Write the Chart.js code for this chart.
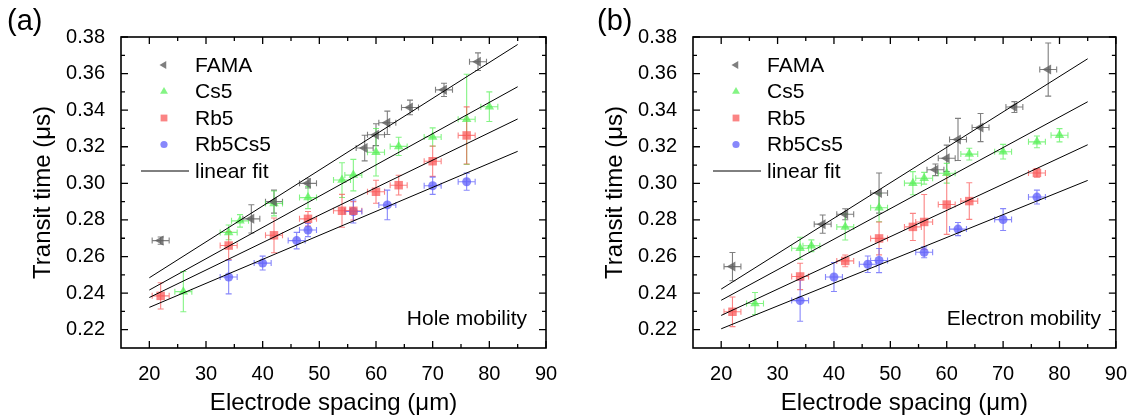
<!DOCTYPE html>
<html lang="en">
<head>
  <meta charset="UTF-8">
  <title>Transit time vs electrode spacing</title>
  <style>
    body { margin: 0; background: #fff; }
    #wrap { position: relative; width: 1133px; height: 419px; }
    .panel { position: absolute; top: 0; height: 419px; }
    #panelA { left: 0; width: 566px; }
    #panelB { left: 566px; width: 567px; }
  </style>
</head>
<body>
  <div id="wrap">
    <div class="panel" id="panelA"><canvas id="chartA"></canvas></div>
    <div class="panel" id="panelB"><canvas id="chartB"></canvas></div>
  </div>

  <script src="https://cdn.jsdelivr.net/npm/chart.js"></script>
  <script>
    // ---- data ----
    const seriesNames = ['FAMA', 'Cs5', 'Rb5', 'Rb5Cs5'];
    const xTicks = [20, 30, 40, 50, 60, 70, 80, 90];
    const yTicks = [0.22, 0.24, 0.26, 0.28, 0.30, 0.32, 0.34, 0.36, 0.38];
    const spacingErr = 1.5;   // horizontal error (µm), same for all points
    const fitX = [20, 85];

    // (a) hole mobility
    const holeFamaX = [22, 38, 42, 48, 58, 60, 62, 66, 72, 78];
    const holeFamaY = [0.2687, 0.2806, 0.2900, 0.3000, 0.3193, 0.3266, 0.3331, 0.3415, 0.3511, 0.3665];
    const holeFamaErr = [0.0020, 0.0077, 0.0063, 0.0025, 0.0070, 0.0060, 0.0064, 0.0040, 0.0036, 0.0048];

    const holeCs5X = [26, 34, 36, 42, 48, 54, 56, 60, 64, 70, 76, 80];
    const holeCs5Y = [0.2408, 0.2732, 0.2795, 0.2890, 0.2922, 0.3018, 0.3045, 0.3170, 0.3202, 0.3253, 0.3350, 0.3419];
    const holeCs5Err = [0.0110, 0.0040, 0.0034, 0.0068, 0.0060, 0.0095, 0.0086, 0.0130, 0.0050, 0.0050, 0.0246, 0.0081];

    const holeRb5X = [22, 34, 42, 48, 54, 56, 60, 64, 70, 76];
    const holeRb5Y = [0.2385, 0.2660, 0.2716, 0.2806, 0.2850, 0.2850, 0.2954, 0.2990, 0.3121, 0.3262];
    const holeRb5Err = [0.0072, 0.0077, 0.0095, 0.0040, 0.0090, 0.0050, 0.0063, 0.0054, 0.0083, 0.0156];

    const holeRbCsX = [34, 40, 46, 48, 56, 62, 70, 76];
    const holeRbCsY = [0.2488, 0.2564, 0.2687, 0.2745, 0.2846, 0.2882, 0.2987, 0.3009];
    const holeRbCsErr = [0.0092, 0.0038, 0.0045, 0.0036, 0.0063, 0.0081, 0.0047, 0.0047];

    const holeFitFama = [0.2484, 0.3759];
    const holeFitCs5 = [0.2417, 0.3528];
    const holeFitRb5 = [0.2376, 0.3352];
    const holeFitRbCs = [0.2322, 0.3175];

    // (b) electron mobility
    const elecFamaX = [22, 38, 42, 48, 58, 60, 62, 66, 72, 78];
    const elecFamaY = [0.2545, 0.2777, 0.2831, 0.2947, 0.3074, 0.3137, 0.3240, 0.3305, 0.3417, 0.3622];
    const elecFamaErr = [0.0077, 0.0050, 0.0030, 0.0110, 0.0032, 0.0072, 0.0115, 0.0077, 0.0030, 0.0145];

    const elecCs5X = [26, 34, 36, 42, 48, 54, 56, 60, 64, 70, 76, 80];
    const elecCs5Y = [0.2343, 0.2645, 0.2659, 0.2762, 0.2867, 0.3001, 0.3028, 0.3055, 0.3160, 0.3173, 0.3227, 0.3263];
    const elecCs5Err = [0.0060, 0.0060, 0.0032, 0.0072, 0.0077, 0.0063, 0.0032, 0.0054, 0.0032, 0.0040, 0.0032, 0.0036];

    const elecRb5X = [22, 34, 42, 48, 54, 56, 60, 64, 76];
    const elecRb5Y = [0.2298, 0.2491, 0.2576, 0.2699, 0.2762, 0.2789, 0.2884, 0.2903, 0.3057];
    const elecRb5Err = [0.0081, 0.0072, 0.0032, 0.0090, 0.0074, 0.0150, 0.0163, 0.0100, 0.0024];

    const elecRbCsX = [34, 40, 46, 48, 56, 62, 70, 76];
    const elecRbCsY = [0.2359, 0.2488, 0.2558, 0.2578, 0.2623, 0.2750, 0.2802, 0.2925];
    const elecRbCsErr = [0.0113, 0.0079, 0.0045, 0.0066, 0.0030, 0.0036, 0.0060, 0.0038];

    const elecFitFama = [0.2422, 0.3681];
    const elecFitCs5 = [0.2361, 0.3446];
    const elecFitRb5 = [0.2278, 0.3211];
    const elecFitRbCs = [0.2205, 0.3016];

    // ---- styles ----
    const FONT = '"Liberation Sans", Arial, sans-serif';
    const seriesColors = ['rgba(95,95,95,0.8)', 'rgba(80,240,80,0.7)', 'rgba(250,80,80,0.7)', 'rgba(95,95,250,0.75)'];
    const markerStyles = ['triangle', 'triangle', 'rect', 'circle'];
    const markerRotation = [-90, 0, 0, 0];
    const markerRadius = [5.8, 5.5, 6, 4.5];

    Chart.defaults.font.family = FONT;
    Chart.defaults.color = '#000';

    const toPoints = (xs, ys) => xs.map((x, i) => ({ x: x, y: ys[i] }));

    // small marker for the hand-drawn legend
    function drawMarker(ctx, i, x, y) {
      const r = 4.5;
      ctx.fillStyle = seriesColors[i];
      ctx.beginPath();
      if (i === 0) {
        ctx.moveTo(x - r, y); ctx.lineTo(x + r * 0.5, y - r * 0.87); ctx.lineTo(x + r * 0.5, y + r * 0.87);
      } else if (i === 1) {
        ctx.moveTo(x, y - r); ctx.lineTo(x + r * 0.87, y + r * 0.5); ctx.lineTo(x - r * 0.87, y + r * 0.5);
      } else if (i === 2) {
        ctx.rect(x - 3.4, y - 3.4, 6.8, 6.8);
      } else {
        ctx.arc(x, y, 3.6, 0, Math.PI * 2);
      }
      ctx.closePath();
      ctx.fill();
    }

    // x and y error bars, drawn under the markers
    const errorBars = {
      id: 'errorBars',
      beforeDatasetsDraw(chart) {
        const { ctx, scales: { x, y } } = chart;
        chart.data.datasets.forEach(ds => {
          if (!ds.yErr) return;
          ctx.save();
          ctx.strokeStyle = ds.borderColor;
          ctx.lineWidth = 1.1;
          ds.data.forEach((p, i) => {
            const px = x.getPixelForValue(p.x), py = y.getPixelForValue(p.y);
            const l = x.getPixelForValue(p.x - spacingErr), r = x.getPixelForValue(p.x + spacingErr);
            const t = y.getPixelForValue(p.y + ds.yErr[i]), b = y.getPixelForValue(p.y - ds.yErr[i]);
            ctx.beginPath();
            ctx.moveTo(l, py); ctx.lineTo(r, py);
            ctx.moveTo(l, py - 3); ctx.lineTo(l, py + 3);
            ctx.moveTo(r, py - 3); ctx.lineTo(r, py + 3);
            ctx.moveTo(px, t); ctx.lineTo(px, b);
            ctx.moveTo(px - 3, t); ctx.lineTo(px + 3, t);
            ctx.moveTo(px - 3, b); ctx.lineTo(px + 3, b);
            ctx.stroke();
          });
          ctx.restore();
        });
      }
    };

    // box frame with inward major/minor ticks on all four sides
    const frameTicks = {
      id: 'frameTicks',
      afterDatasetsDraw(chart) {
        const { ctx, chartArea: a, scales: { x, y } } = chart;
        ctx.save();
        ctx.strokeStyle = '#000';
        ctx.lineWidth = 1.3;
        ctx.beginPath();
        const xMinor = xTicks.slice(0, -1).map((v, i) => (v + xTicks[i + 1]) / 2);
        const yMinor = yTicks.slice(0, -1).map((v, i) => (v + yTicks[i + 1]) / 2);
        const tickX = (v, len) => {
          const p = x.getPixelForValue(v);
          ctx.moveTo(p, a.bottom); ctx.lineTo(p, a.bottom - len);
          ctx.moveTo(p, a.top); ctx.lineTo(p, a.top + len);
        };
        const tickY = (v, len) => {
          const p = y.getPixelForValue(v);
          ctx.moveTo(a.left, p); ctx.lineTo(a.left + len, p);
          ctx.moveTo(a.right, p); ctx.lineTo(a.right - len, p);
        };
        xTicks.forEach(v => tickX(v, 7));
        xMinor.forEach(v => tickX(v, 4));
        yTicks.forEach(v => tickY(v, 7));
        yMinor.forEach(v => tickY(v, 4));
        ctx.stroke();
        ctx.lineWidth = 1.6;
        ctx.strokeRect(a.left, a.top, a.right - a.left, a.bottom - a.top);
        ctx.restore();
      }
    };

    // panel tag, note, axis titles and legend
    const panelText = {
      id: 'panelText',
      afterDraw(chart, args, opts) {
        const { ctx, chartArea: a } = chart;
        ctx.save();
        ctx.fillStyle = '#000';
        ctx.textAlign = 'left';
        ctx.textBaseline = 'top';
        ctx.font = '29px ' + FONT;
        ctx.fillText(opts.tag, opts.tagX, 7);

        ctx.font = '21px ' + FONT;
        ctx.textAlign = 'right';
        ctx.textBaseline = 'middle';
        ctx.fillText(opts.note, a.right - opts.noteRight, a.bottom - 29);

        ctx.font = '24px ' + FONT;
        ctx.textAlign = 'center';
        ctx.fillText('Electrode spacing (μm)', (a.left + a.right) / 2, 403);
        ctx.save();
        ctx.translate(a.left - 78, (a.top + a.bottom) / 2);
        ctx.rotate(-Math.PI / 2);
        ctx.fillText('Transit time (μs)', 0, 0);
        ctx.restore();

        // legend
        ctx.font = '21px ' + FONT;
        ctx.textAlign = 'left';
        seriesNames.forEach((name, i) => {
          const yy = a.top + 28 + i * 26.5;
          drawMarker(ctx, i, a.left + 43, yy);
          ctx.fillStyle = '#000';
          ctx.fillText(name, a.left + 74, yy + 1);
        });
        const yl = a.top + 28 + 4 * 26.5;
        ctx.strokeStyle = '#000';
        ctx.lineWidth = 1;
        ctx.beginPath();
        ctx.moveTo(a.left + 20, yl); ctx.lineTo(a.left + 68, yl);
        ctx.stroke();
        ctx.fillText('linear fit', a.left + 74, yl + 1);
        ctx.restore();
      }
    };

    function makePanel(canvasId, series, fits, axisWidth, rightPad, text) {
      const datasets = [];
      fits.forEach(f => {
        datasets.push({
          type: 'line',
          data: toPoints(fitX, f),
          borderColor: '#000',
          borderWidth: 1,
          pointRadius: 0,
          fill: false
        });
      });
      series.forEach((s, i) => {
        datasets.push({
          type: 'scatter',
          label: seriesNames[i],
          data: toPoints(s.x, s.y),
          yErr: s.err,
          borderColor: seriesColors[i],
          backgroundColor: seriesColors[i],
          pointStyle: markerStyles[i],
          rotation: markerRotation[i],
          pointRadius: markerRadius[i],
          pointBorderWidth: 0
        });
      });

      return new Chart(document.getElementById(canvasId), {
        type: 'scatter',
        data: { datasets: datasets },
        options: {
          responsive: true,
          maintainAspectRatio: false,
          animation: false,
          devicePixelRatio: 1,
          layout: { padding: { top: 37, right: rightPad, left: 0, bottom: 0 } },
          plugins: {
            legend: { display: false },
            tooltip: { enabled: false },
            panelText: text
          },
          scales: {
            x: {
              type: 'linear',
              min: 15,
              max: 90,
              grid: { display: false },
              border: { display: false },
              afterBuildTicks: scale => { scale.ticks = xTicks.map(v => ({ value: v })); },
              afterFit: scale => { scale.height = 71; },
              ticks: { font: { size: 20 }, padding: 6, autoSkip: false, maxRotation: 0 }
            },
            y: {
              type: 'linear',
              min: 0.21,
              max: 0.38,
              grid: { display: false },
              border: { display: false },
              afterBuildTicks: scale => { scale.ticks = yTicks.map(v => ({ value: v })); },
              afterFit: scale => { scale.width = axisWidth; },
              ticks: { font: { size: 20 }, padding: 8, callback: v => v.toFixed(2) }
            }
          }
        },
        plugins: [errorBars, frameTicks, panelText]
      });
    }

    makePanel('chartA', [
      { x: holeFamaX, y: holeFamaY, err: holeFamaErr },
      { x: holeCs5X, y: holeCs5Y, err: holeCs5Err },
      { x: holeRb5X, y: holeRb5Y, err: holeRb5Err },
      { x: holeRbCsX, y: holeRbCsY, err: holeRbCsErr }
    ], [holeFitFama, holeFitCs5, holeFitRb5, holeFitRbCs], 121, 20,
      { tag: '(a)', tagX: 7, note: 'Hole mobility', noteRight: 19 });

    makePanel('chartB', [
      { x: elecFamaX, y: elecFamaY, err: elecFamaErr },
      { x: elecCs5X, y: elecCs5Y, err: elecCs5Err },
      { x: elecRb5X, y: elecRb5Y, err: elecRb5Err },
      { x: elecRbCsX, y: elecRbCsY, err: elecRbCsErr }
    ], [elecFitFama, elecFitCs5, elecFitRb5, elecFitRbCs], 127, 15,
      { tag: '(b)', tagX: 31, note: 'Electron mobility', noteRight: 15 });
  </script>
</body>
</html>
